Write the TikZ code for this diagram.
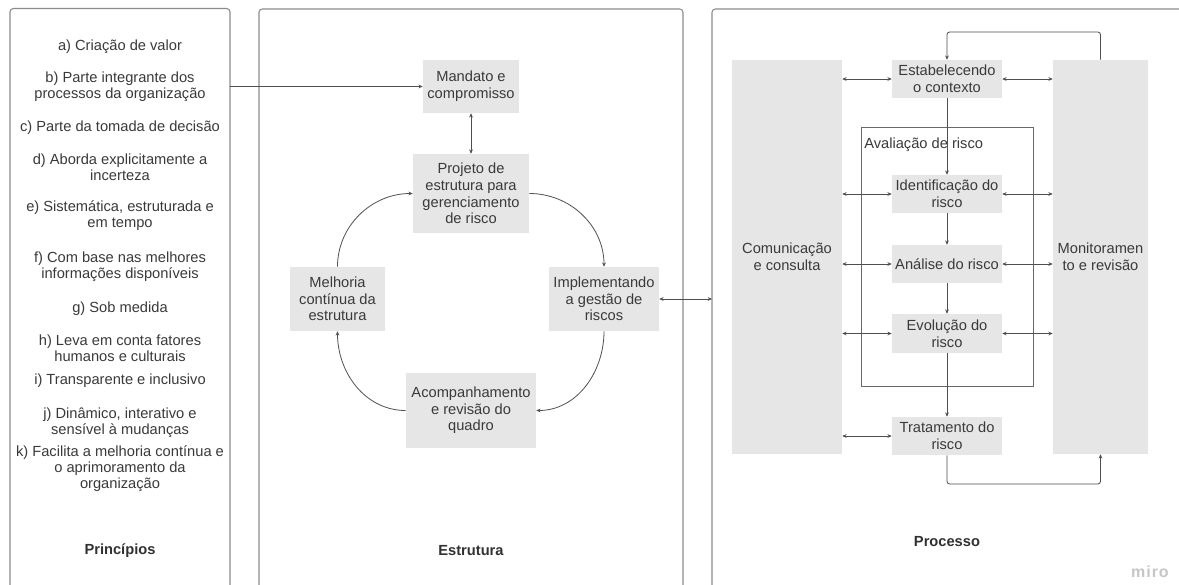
\documentclass[tikz,border=0pt]{standalone}
\usepackage{fontspec}
\setmainfont{Liberation Sans}
\usetikzlibrary{arrows.meta}
\definecolor{txt}{HTML}{3A3A3A}
\definecolor{boxfill}{HTML}{E6E6E6}
\definecolor{edge}{HTML}{8C8C8C}
\definecolor{wirec}{HTML}{4F4F4F}
\definecolor{logo}{HTML}{C6C6C6}
\begin{document}
\begin{tikzpicture}[x=0.75pt,y=-0.75pt,
  panel/.style={draw=edge,line width=0.8pt,rounded corners=2.5pt},
  item/.style={text=txt,align=center,font=\fontsize{11}{12}\selectfont,inner sep=0pt},
  heading/.style={text=txt!85!black,font=\fontsize{11}{13}\selectfont\bfseries,inner sep=0pt},
  sz/.style 2 args={minimum width=#1*0.75pt,minimum height=#2*0.75pt},
  stage/.style={fill=boxfill,text=txt,align=center,font=\fontsize{11}{12.5}\selectfont,inner sep=1pt},
  wire/.style={draw=wirec,line width=0.6pt},
  onetip/.style={-{Stealth[length=3.2pt,width=2.8pt]}},
  twotips/.style={{Stealth[length=3.2pt,width=2.8pt]}-{Stealth[length=3.2pt,width=2.8pt]}},
]
\path[use as bounding box] (0,0) rectangle (1179,585);
\clip (0,0) rectangle (1179,585);
\fill[white] (0,0) rectangle (1179,585);

% three panels, running past the lower edge
\draw[panel] (10,8.5) rectangle (230,620);
\draw[panel] (259,9) rectangle (683,620);
\draw[panel] (712,9) rectangle (1240,620);

% --- Principios ---
\node[item] (pa) at (120,47) {a) Criação de valor};
\node[item] (pb) at (120,87) {b) Parte integrante dos\\processos da organização};
\node[item] (pc) at (120,128) {c) Parte da tomada de decisão};
\node[item] (pd) at (120,167.5) {d) Aborda explicitamente a\\incerteza};
\node[item] (pe) at (120,216) {e) Sistemática, estruturada e\\em tempo};
\node[item] (pf) at (120,267) {f) Com base nas melhores\\informações disponíveis};
\node[item] (pg) at (120,309) {g) Sob medida};
\node[item] (ph) at (120,348) {h) Leva em conta fatores\\humanos e culturais};
\node[item] (pi) at (120,381) {i) Transparente e inclusivo};
\node[item] (pj) at (120,423) {j) Dinâmico, interativo e\\sensível à mudanças};
\node[item] (pk) at (120,469) {k) Facilita a melhoria contínua e\\o aprimoramento da\\organização};
\node[heading] (princ) at (120,551) {Princípios};

% --- Estrutura ---
\node[stage,sz={96}{53}] (mand) at (471,86.5) {Mandato e\\compromisso};
\node[stage,sz={116}{79}] (proj) at (471,193.5) {Projeto de\\estrutura para\\gerenciamento\\de risco};
\node[stage,sz={95}{64}] (melh) at (337.5,299) {Melhoria\\contínua da\\estrutura};
\node[stage,sz={110}{64}] (impl) at (604,299) {Implementando\\a gestão de\\riscos};
\node[stage,sz={130}{75}] (acomp) at (471,410.5) {Acompanhamento\\e revisão do\\quadro};
\node[heading] (estr) at (471,551) {Estrutura};

\coordinate (pbout) at (230,87);
\draw[wire,onetip] (mand.west -| pbout) -- (mand.west);
\draw[wire,twotips] (mand.south) -- (proj.north);
\draw[wire,onetip] (proj.east) to[out=0,in=90] (impl.north);
\draw[wire,onetip] (impl.south) to[out=-90,in=0] (acomp.east);
\draw[wire,onetip] (acomp.west) to[out=180,in=-90] (melh.south);
\draw[wire,onetip] (melh.north) to[out=90,in=180] (proj.west);
\coordinate (procedge) at (712,299);
\draw[wire,twotips] (impl.east) -- (procedge);

% --- Processo ---
\node[stage,sz={110}{394}] (comm) at (787,257) {Comunicação\\e consulta};
\node[stage,sz={95}{394}] (mon) at (1100.5,257) {Monitoramen\\to e revisão};
\node[draw=wirec!85,line width=0.7pt,sz={172}{259}] (aval) at (947,256.5) {};
\node[item,anchor=west] (avallbl) at (864,145) {Avaliação de risco};
\node[stage,sz={110}{38}] (estab) at (947,79) {Estabelecendo\\o contexto};
\node[stage,sz={110}{38}] (ident) at (947,194) {Identificação do\\risco};
\node[stage,sz={110}{38}] (anal) at (947,264) {Análise do risco};
\node[stage,sz={110}{39}] (evol) at (947,333.5) {Evolução do\\risco};
\node[stage,sz={110}{38}] (trat) at (947,436) {Tratamento do\\risco};
\node[heading] (procl) at (947,542) {Processo};

\foreach \n in {estab,ident,anal,evol,trat}
  \draw[wire,twotips] (\n.west -| comm.east) -- (\n.west);
\foreach \n in {estab,ident,anal,evol}
  \draw[wire,twotips] (\n.east) -- (\n.east -| mon.west);
\draw[wire,onetip] (estab.south) -- (ident.north);
\draw[wire,onetip] (ident.south) -- (anal.north);
\draw[wire,onetip] (anal.south) -- (evol.north);
\draw[wire,onetip] (evol.south) -- (trat.north);
\coordinate (looptop) at (1100.5,32);
\draw[wire,onetip,rounded corners=2pt] (mon.north) -- (looptop) -| (estab.north);
\coordinate (loopbot) at (947,484);
\draw[wire,onetip,rounded corners=2pt] (trat.south) -- (loopbot) -| (mon.south);

\node[text=logo,font=\fontsize{12}{12}\selectfont\bfseries\addfontfeature{LetterSpace=6}] (miro) at (1150,572) {miro};
\end{tikzpicture}
\end{document}
